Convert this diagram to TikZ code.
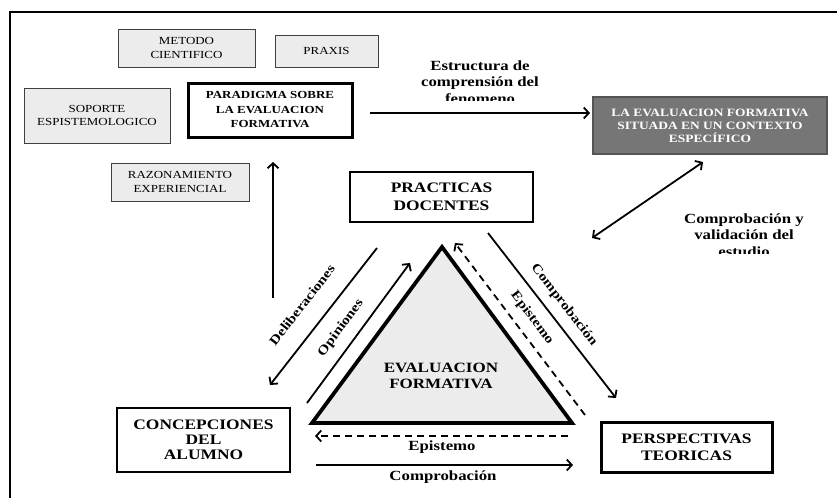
\documentclass[tikz,border=0pt]{standalone}
\usepackage{fontspec}
\setmainfont{Liberation Serif}[FakeStretch=1.2]
\usetikzlibrary{arrows.meta}
\definecolor{lightfill}{HTML}{ECECEC}
\definecolor{darkfill}{HTML}{767676}
\definecolor{darkedge}{HTML}{555555}
\begin{document}
\begin{tikzpicture}[x=1pt,y=-1pt,
  graybox/.style={draw=black!75, line width=0.8pt, fill=lightfill, inner sep=0pt, align=center,
    font=\fontsize{10.8}{13.5}\selectfont},
  boldbox/.style={draw=black, line width=2.8pt, fill=white, inner sep=0pt, align=center,
    font=\bfseries\fontsize{14.5}{16}\selectfont},
  darkbox/.style={draw=darkedge, line width=2.5pt, fill=darkfill, inner sep=0pt, align=center,
    text=white, font=\bfseries\fontsize{11.2}{13}\selectfont},
  lbl/.style={font=\bfseries\fontsize{14}{16.5}\selectfont, align=center, inner sep=0pt},
  rlbl/.style={lbl, font=\bfseries\fontsize{13}{15}\selectfont},
  arr/.style={line width=1.8pt, -{Straight Barb[length=5pt,width=11pt]}},
  darr/.style={line width=1.8pt, {Straight Barb[length=5pt,width=11pt]}-{Straight Barb[length=5pt,width=11pt]}},
  dashedarr/.style={arr, dash pattern=on 7pt off 5pt},
]
\useasboundingbox (0,0) rectangle (837,498);
\fill[white] (0,0) rectangle (837,498);
% outer frame
\draw[line width=1.3pt] (10,498) -- (10,12) -- (837,12);

% small gray boxes
\node[graybox, minimum width=137pt, minimum height=38pt] (metodo) at (186.5,48) {METODO\\CIENTIFICO};
\node[graybox, minimum width=103pt, minimum height=32pt] (praxis) at (326.5,51) {PRAXIS};
\node[graybox, minimum width=146pt, minimum height=55pt] (soporte) at (97,115.5) {SOPORTE\\ESPISTEMOLOGICO};
\node[graybox, minimum width=138pt, minimum height=38pt] (razon) at (180,182) {RAZONAMIENTO\\EXPERIENCIAL};

% main boxes
\node[boldbox, line width=3pt, minimum width=164pt, minimum height=54pt,
  font=\bfseries\fontsize{10.8}{14.5}\selectfont] (paradigma) at (270,110) {PARADIGMA SOBRE\\LA EVALUACION\\FORMATIVA};
\node[darkbox, minimum width=234pt, minimum height=57pt] (contexto) at (710,125.5) {LA EVALUACION FORMATIVA\\SITUADA EN UN CONTEXTO\\ESPECÍFICO};
\node[boldbox, minimum width=183pt, minimum height=50pt, font=\bfseries\fontsize{14.5}{18}\selectfont] (practicas) at (441.5,197) {PRACTICAS\\DOCENTES};
\node[boldbox, minimum width=173pt, minimum height=64pt, font=\bfseries\fontsize{14.5}{15}\selectfont] (concep) at (203.5,440) {CONCEPCIONES\\DEL\\ALUMNO};
\node[boldbox, line width=3pt, minimum width=171pt, minimum height=50pt, font=\bfseries\fontsize{14.5}{17}\selectfont] (persp) at (686.5,447) {PERSPECTIVAS\\TEORICAS};

% triangle
\coordinate (tA) at (442,247);
\coordinate (tB) at (312,423);
\coordinate (tC) at (572,423);
\draw[line width=3.8pt, fill=lightfill, line join=miter] (tA) -- (tB) -- (tC) -- cycle;
\node[lbl, font=\bfseries\fontsize{14.2}{16}\selectfont] (evalf) at (441,376) {EVALUACION\\FORMATIVA};

% connector end points
\coordinate (h1) at (370,113);
\coordinate (h2) at (590,113);
\coordinate (v1) at (273,298);
\coordinate (v2) at (273,162);
\coordinate (d1) at (703,162);
\coordinate (d2) at (592,238);
\coordinate (del1) at (377,248);
\coordinate (del2) at (270,385);
\coordinate (op1) at (307,403);
\coordinate (op2) at (410,263);
\coordinate (cp1) at (488,233);
\coordinate (cp2) at (616,398);
\coordinate (ep1) at (585,415);
\coordinate (ep2) at (455,243);
\coordinate (be1) at (568,436);
\coordinate (be2) at (315,436);
\coordinate (bc1) at (316,465);
\coordinate (bc2) at (573,465);

% connectors
\draw[arr] (h1) -- (h2);
\draw[arr] (v1) -- (v2);
\draw[darr] (d1) -- (d2);
\draw[arr] (del1) -- (del2);
\draw[arr] (op1) -- (op2);
\draw[arr] (cp1) -- (cp2);
\draw[dashedarr] (ep1) -- (ep2);
\draw[dashedarr] (be1) -- (be2);
\draw[arr] (bc1) -- (bc2);

% labels
\begin{scope}
  \clip (380,40) rectangle (590,100);
  \node[lbl] (lestr) at (480,82) {Estructura de\\comprensión del\\fenomeno};
\end{scope}
\begin{scope}
  \clip (640,190) rectangle (837,253);
  \node[lbl] (lcomp) at (744,235) {Comprobación y\\validación del\\estudio};
\end{scope}
\node[rlbl, rotate=52] (ldel) at (302,305) {Deliberaciones};
\node[rlbl, rotate=53.6] (lop) at (341,328) {Opiniones};
\node[rlbl, rotate=-52] (lcp) at (564,305) {Comprobación};
\node[rlbl, rotate=-53] (lep) at (532,318) {Epistemo};
\node[lbl] (lbe) at (442,447) {Epistemo};
\node[lbl] (lbc) at (443,477) {Comprobación};
\end{tikzpicture}
\end{document}
